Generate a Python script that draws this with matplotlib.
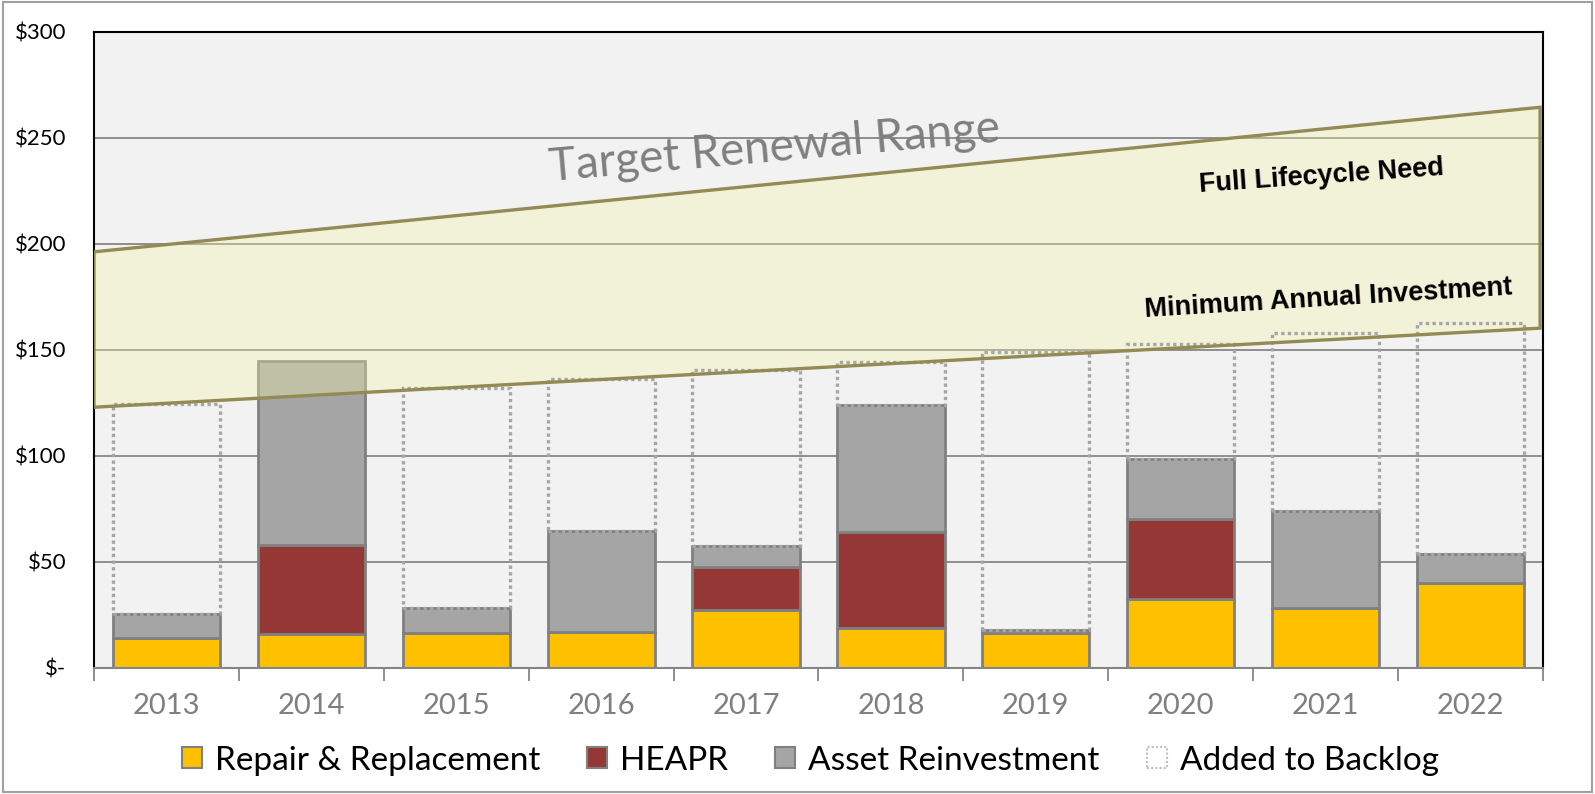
import matplotlib
matplotlib.use('Agg')
import matplotlib.pyplot as plt
from matplotlib.patches import Patch, Polygon, Rectangle

years = ['2013', '2014', '2015', '2016', '2017', '2018', '2019', '2020', '2021', '2022']
repair = [14, 16, 16.5, 17, 27.5, 19, 16.5, 32.5, 28.5, 40]
heapr = [0, 42, 0, 0, 20, 45, 0, 38, 0, 0]
asset = [11.5, 87, 12, 47.5, 10.2, 60, 1.5, 28, 45.5, 14]
backlog = [99, 0, 103.5, 72, 83, 20.5, 131, 54.5, 84, 108.5]

# target renewal band, value at first and last edge of the x range
band_low = [123, 160.3]
band_high = [196.3, 264.5]

YELLOW = '#FFC000'
RED = '#953735'
GRAY = '#A5A5A5'
EDGE = '#808080'
OLIVE = '#948A54'

plt.rcParams['font.family'] = ['Lato', 'DejaVu Sans']

fig = plt.figure(figsize=(15.95, 7.94), dpi=100)
ax = fig.add_axes([0.0589, 0.1587, 0.9085, 0.801])
ax.set_facecolor('#F2F2F2')

x = list(range(len(years)))
w = 0.74
bottom2 = [r + h for r, h in zip(repair, heapr)]
top = [b + a for b, a in zip(bottom2, asset)]

ax.bar(x, repair, w, color=YELLOW, edgecolor=EDGE, linewidth=2, zorder=2)
ax.bar(x, heapr, w, bottom=repair, color=RED, edgecolor=EDGE, linewidth=2, zorder=2)
ax.bar(x, asset, w, bottom=bottom2, color=GRAY, edgecolor=EDGE, linewidth=2, zorder=2)
for xi, b, h in zip(x, top, backlog):
    if h > 0:
        ax.add_patch(Rectangle((xi - w / 2, b), w, h, fill=False, edgecolor='#A6A6A6',
                               linewidth=2.4, linestyle=(0, (1, 1)), zorder=4))

x0, x1 = -0.5, len(years) - 0.52
corners = [(x0, band_low[0]), (x1, band_low[1]), (x1, band_high[1]), (x0, band_high[0])]
ax.add_patch(Polygon(corners, closed=True, facecolor='#F3F3AB', alpha=0.35, edgecolor='none', zorder=3))
ax.add_patch(Polygon(corners, closed=True, fill=False, edgecolor=OLIVE, linewidth=2.4, zorder=5))

ax.text(4.2, 245, 'Target Renewal Range', fontsize=33, color='#7F7F7F', rotation=5,
        ha='center', va='center', rotation_mode='anchor', zorder=6)
ax.text(7.97, 232, 'Full Lifecycle Need', fontsize=19.5, fontweight='bold', family='Liberation Sans',
        rotation=4, ha='center', va='center', rotation_mode='anchor', zorder=6)
ax.text(8.02, 174, 'Minimum Annual Investment', fontsize=19.5, fontweight='bold', family='Liberation Sans',
        rotation=3.5, ha='center', va='center', rotation_mode='anchor', zorder=6)

ax.set_xlim(-0.5, len(years) - 0.5)
ax.set_ylim(0, 300)
ax.set_yticks([0, 50, 100, 150, 200, 250, 300])
ax.set_yticklabels(['$-', '$50', '$100', '$150', '$200', '$250', '$300'], fontsize=16)
ax.yaxis.grid(True, color='#868686', linewidth=1.3, zorder=1)
ax.set_axisbelow(True)
ax.tick_params(axis='y', length=0, pad=20)

ax.set_xticks(x)
ax.set_xticklabels(years, fontsize=21, color='#7F7F7F')
ax.set_xticks([i - 0.5 for i in range(len(years) + 1)], minor=True)
ax.tick_params(axis='x', which='major', length=0, pad=18)
ax.tick_params(axis='x', which='minor', length=9, width=1.3, color='#868686')

for s in ['left', 'top', 'right']:
    ax.spines[s].set_color('black')
    ax.spines[s].set_linewidth(1.5)
ax.spines['bottom'].set_color('#868686')
ax.spines['bottom'].set_linewidth(1.5)

handles = [
    Patch(facecolor=YELLOW, edgecolor=EDGE, linewidth=1.5, label='Repair & Replacement'),
    Patch(facecolor=RED, edgecolor=EDGE, linewidth=1.5, label='HEAPR'),
    Patch(facecolor=GRAY, edgecolor=EDGE, linewidth=1.5, label='Asset Reinvestment'),
    Patch(facecolor='white', edgecolor='#BFBFBF', linewidth=1.5, linestyle=(0, (1, 1)), label='Added to Backlog'),
]
fig.legend(handles=handles, loc='center', bbox_to_anchor=(0.508, 0.042), ncol=4, frameon=False,
           fontsize=24, handlelength=0.6, handleheight=0.6, handletextpad=0.4, columnspacing=1.4)

fig.add_artist(Rectangle((0.002, 0.003), 0.996, 0.994, transform=fig.transFigure, fill=False,
                         edgecolor='#A0A0A0', linewidth=1.5))

fig.savefig('out.png', dpi=100)
